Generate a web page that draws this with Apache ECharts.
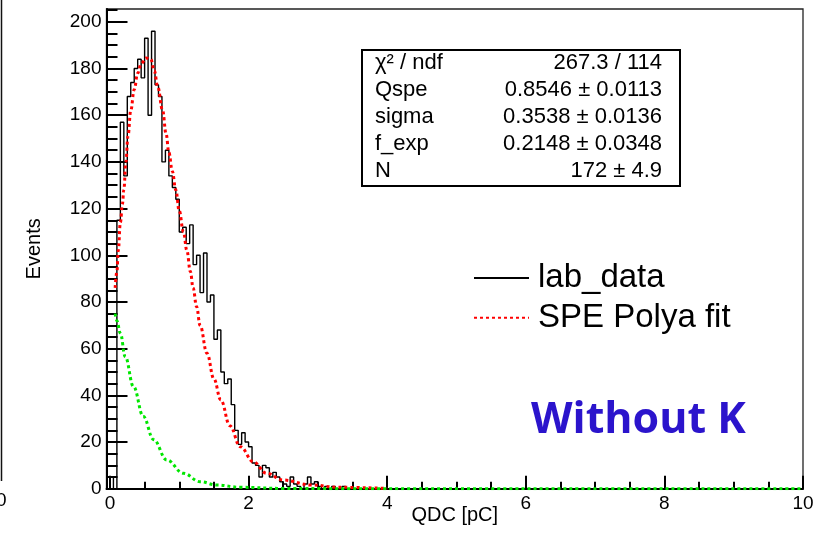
<!DOCTYPE html>
<html><head><meta charset="utf-8">
<script src="https://cdn.jsdelivr.net/npm/echarts@6/dist/echarts.min.js"></script>
<style>html,body{margin:0;padding:0;background:#fff}#c{width:814px;height:533px}</style>
</head><body><div id="c"></div>
<script>
// ---------- data ----------
const binWidth = 0.05;          // histogram bin width [pC]
const histRange = [0, 10];      // histogram x range [pC]
const counts = [
  5, 0, 115, 157, 134, 168, 174, 180, 184, 176,
  193, 160, 196, 173, 168, 140, 145, 134, 129, 124,
  110, 112, 105, 113, 96, 100, 84, 101, 80, 83,
  64, 68, 50, 45, 47, 36, 25, 19, 24, 20,
  18, 11, 10, 5, 10, 9, 5, 7, 5, 3,
  2, 1, 5, 2, 1, 0, 2, 5, 2, 3,
  1, 0, 1, 0, 1, 0, 0, 1, 0, 0
];
const fitX = [0.075, 0.1, 0.12, 0.15, 0.18, 0.2, 0.23, 0.26, 0.3, 0.35, 0.4, 0.45, 0.52, 0.59, 0.64, 0.69, 0.76, 0.81, 0.85, 0.9, 0.95, 1.0, 1.06, 1.11, 1.16, 1.2, 1.25, 1.3, 1.4, 1.5, 1.6, 1.73, 1.88, 2.07, 2.26, 2.5, 2.9, 3.3, 4.0];
const fitY = [86, 93, 102, 114, 122, 128, 140, 151, 162, 171, 178, 182, 184.5, 184, 179, 172, 162, 152, 144, 136, 128, 119, 110, 102, 93, 86, 78, 70, 58, 47, 38, 27, 18, 11.5, 6.6, 3.7, 1.6, 0.6, 0.1];
const expX = [0.075, 0.1, 0.15, 0.22, 0.34, 0.48, 0.63, 0.82, 1.06, 1.3, 1.54, 1.88, 2.5, 3.5, 10];
const expY = [75, 72, 66.6, 56.6, 43.7, 31, 21, 12.3, 6.6, 3, 1.6, 0.6, 0.1, 0, 0];

const xMajorTicks = [0, 2, 4, 6, 8, 10];
const xMinorTicks = [0.5, 1, 1.5, 2.5, 3, 3.5, 4.5, 5, 5.5, 6.5, 7, 7.5, 8.5, 9, 9.5];
const yMajorTicks = [0, 20, 40, 60, 80, 100, 120, 140, 160, 180, 200];
const yMinorTicks = [5, 10, 15, 25, 30, 35, 45, 50, 55, 65, 70, 75, 85, 90, 95, 105, 110, 115, 125, 130, 135, 145, 150, 155, 165, 170, 175, 185, 190, 195, 205];

const statNames = ['χ² / ndf', 'Qspe', 'sigma', 'f_exp', 'N'];
const statValues = ['267.3 / 114', '0.8546 ± 0.0113', '0.3538 ± 0.0136', '0.2148 ± 0.0348', '172 ± 4.9'];
const legendNames = ['lab_data', 'SPE Polya fit'];
const annotation = 'Without K';

// ---------- build series data ----------
const histPts = [[histRange[0], 0]];
counts.forEach((c, i) => histPts.push([histRange[0] + i * binWidth, c]));
const lastEdge = histRange[0] + counts.length * binWidth;
histPts.push([lastEdge, 0]);
histPts.push([histRange[1], 0]);
const fitPts = fitX.map((x, i) => [x, fitY[i]]);
const expPts = expX.map((x, i) => [x, expY[i]]);

const FONT = 'Liberation Sans, Arial, Helvetica, sans-serif';
const black = '#000';

const chart = echarts.init(document.getElementById('c'), null, {renderer: 'canvas'});

const graphics = [
  {type: 'line', shape: {x1: 1.5, y1: 0, x2: 1.5, y2: 481}, style: {stroke: '#111', lineWidth: 1.5}},
  {type: 'text', x: -4, y: 501, style: {text: '0', font: '19px ' + FONT, fill: black, verticalAlign: 'middle'}},
  {type: 'rect', shape: {x: 362, y: 50, width: 318, height: 136}, style: {fill: '#fff', stroke: black, lineWidth: 2}, z: 10},
  {type: 'text', x: 531, y: 421, z: 11,
    style: {text: annotation, font: 'bold 43px "Open Sans", "Noto Sans", sans-serif', fill: '#2b14cc', verticalAlign: 'middle'}}
];
statNames.forEach((n, i) => {
  graphics.push({type: 'text', x: 375, y: 62.5 + i * 27, z: 11,
    style: {text: n, font: '22px ' + FONT, fill: black, verticalAlign: 'middle'}});
  graphics.push({type: 'text', x: 662, y: 62.5 + i * 27, z: 11,
    style: {text: statValues[i], font: '22px ' + FONT, fill: black, align: 'right', verticalAlign: 'middle'}});
});

chart.setOption({
  animation: false,
  backgroundColor: '#fff',
  grid: {left: 106.5, right: 11, top: 9, bottom: 44.3, show: true, borderColor: '#222', borderWidth: 1.3, backgroundColor: 'transparent', outerBoundsMode: 'none'},
  legend: {
    data: legendNames, orient: 'vertical', left: 473, top: 261.5, padding: 0,
    itemWidth: 55, itemHeight: 14, itemGap: 6.7,
    itemStyle: {opacity: 0},
    textStyle: {fontSize: 33, lineHeight: 33, fontFamily: FONT, color: black, padding: [0, 0, 0, 4]},
    selectedMode: false
  },
  xAxis: [{
    type: 'value', min: -0.05, max: 10, position: 'bottom',
    axisLine: {show: true, onZero: false, lineStyle: {color: black, width: 2}},
    axisTick: {show: true, inside: true, length: 13, customValues: xMajorTicks, lineStyle: {color: black, width: 2}},
    axisLabel: {customValues: xMajorTicks, fontSize: 19, fontFamily: FONT, color: black, margin: 6},
    splitLine: {show: false},
    name: 'QDC [pC]', nameLocation: 'middle', nameGap: 17, nameMoveOverlap: false,
    nameTextStyle: {fontSize: 20, fontFamily: FONT, color: black}
  }, {
    type: 'value', min: -0.05, max: 10, position: 'bottom',
    axisLine: {show: false, onZero: false},
    axisTick: {show: true, inside: true, length: 7, customValues: xMinorTicks, lineStyle: {color: black, width: 2}},
    axisLabel: {show: false},
    splitLine: {show: false}
  }],
  yAxis: [{
    type: 'value', min: 0, max: 205.5, position: 'left',
    axisLine: {show: true, onZero: false, lineStyle: {color: black, width: 2}},
    axisTick: {show: true, inside: true, length: 21, customValues: yMajorTicks, lineStyle: {color: black, width: 2}},
    axisLabel: {customValues: yMajorTicks, fontSize: 19, fontFamily: FONT, color: black, margin: 5},
    splitLine: {show: false},
    name: 'Events', nameLocation: 'middle', nameGap: 62, nameRotate: 90, nameMoveOverlap: false,
    nameTextStyle: {fontSize: 20, fontFamily: FONT, color: black}
  }, {
    type: 'value', min: 0, max: 205.5, position: 'left',
    axisLine: {show: false, onZero: false},
    axisTick: {show: true, inside: true, length: 11, customValues: yMinorTicks, lineStyle: {color: black, width: 2}},
    axisLabel: {show: false},
    splitLine: {show: false}
  }],
  series: [{
    name: 'lab_data', type: 'line', step: 'end', data: histPts,
    symbol: 'none', lineStyle: {color: black, width: 1.4}, itemStyle: {color: black}, z: 2
  }, {
    name: 'SPE Polya fit', type: 'line', smooth: 0.4, smoothMonotone: 'x', data: fitPts,
    symbol: 'none', lineStyle: {color: '#ff0000', width: 3, type: [3, 3]}, itemStyle: {color: '#ff0000'}, z: 3
  }, {
    name: 'exp', type: 'line', smooth: 0.4, smoothMonotone: 'x', data: expPts,
    symbol: 'none', lineStyle: {color: '#00e600', width: 3, type: [3, 3]}, itemStyle: {color: '#00e600'}, z: 4
  }],
  graphic: graphics
});
</script>
</body></html>
